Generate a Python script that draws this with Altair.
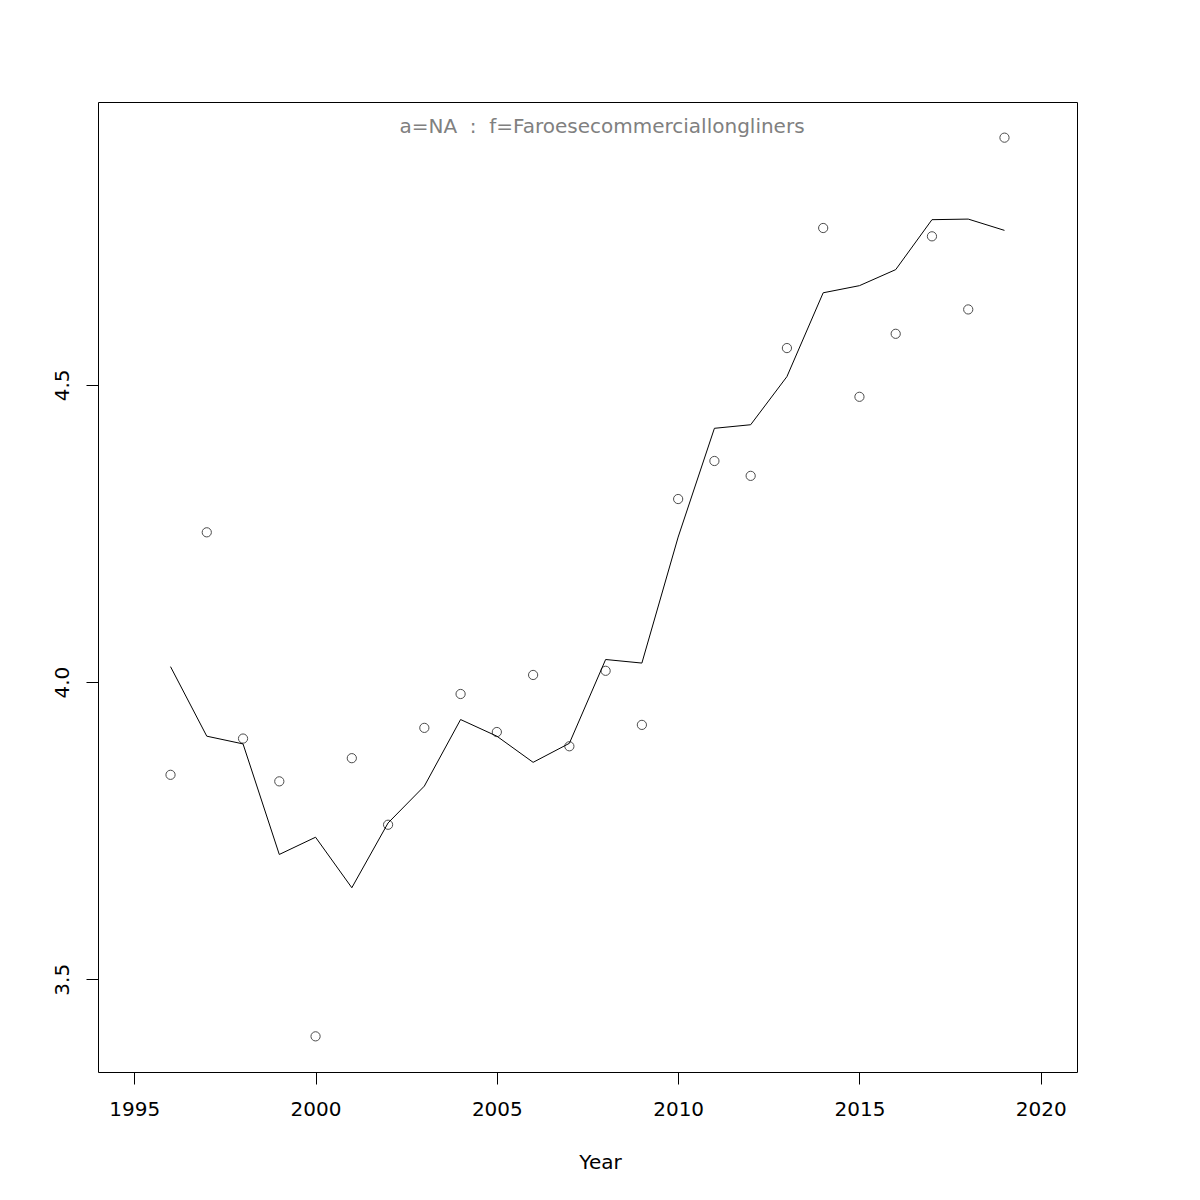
import altair as alt
import pandas as pd

years = list(range(1996, 2020))
observed = [3.844, 4.252, 3.905, 3.833, 3.404, 3.872, 3.760, 3.923, 3.980, 3.916,
            4.012, 3.892, 4.019, 3.928, 4.308, 4.372, 4.347, 4.562, 4.764, 4.480,
            4.586, 4.750, 4.627, 4.916]
fitted = [4.026, 3.909, 3.896, 3.710, 3.739, 3.654, 3.763, 3.825, 3.937, 3.909,
          3.865, 3.897, 4.038, 4.032, 4.244, 4.427, 4.433, 4.514, 4.655, 4.667,
          4.694, 4.778, 4.779, 4.760]
x_ticks = [1995, 2000, 2005, 2010, 2015, 2020]
y_ticks = [3.5, 4.0, 4.5]
title_text = "a=NA\u00a0\u00a0:\u00a0\u00a0f=Faroesecommerciallongliners"

df = pd.DataFrame({"Year": years, "obs": observed, "fit": fitted})

FONT = "DejaVu Sans"

xscale = alt.Scale(domain=[1994, 2021], nice=False, zero=False)
yscale = alt.Scale(domain=[3.344, 4.976], nice=False, zero=False)

xaxis = alt.Axis(values=x_ticks, format="d", tickSize=12, tickColor="black",
                 domain=False, grid=False, labelFontSize=20, labelFont=FONT,
                 labelColor="black", labelPadding=15, title="Year",
                 titleFontSize=20, titleFont=FONT, titleFontWeight="normal",
                 titleColor="black", titlePadding=33, titleX=502,
                 titleAlign="center")
yaxis = alt.Axis(values=y_ticks, format=".1f", tickSize=12, tickColor="black",
                 domain=False, grid=False, labelFontSize=20, labelFont=FONT,
                 labelColor="black", labelAngle=-90, labelAlign="center",
                 labelBaseline="bottom", labelPadding=14, title=None)

base = alt.Chart(df)

points = base.mark_point(shape="circle", filled=False, size=85, color="black",
                         strokeWidth=1).encode(
    x=alt.X("Year:Q", scale=xscale, axis=xaxis),
    y=alt.Y("obs:Q", scale=yscale, axis=yaxis),
)

line = base.mark_line(color="black", strokeWidth=1).encode(
    x=alt.X("Year:Q", scale=xscale),
    y=alt.Y("fit:Q", scale=yscale),
)

title = alt.Chart(pd.DataFrame({"t": [title_text]})).mark_text(
    align="center", baseline="alphabetic", fontSize=20, font=FONT, color="#808080"
).encode(text="t:N", x=alt.value(504), y=alt.value(31))

chart = alt.layer(line, points, title).properties(
    width=979, height=970,
    autosize=alt.AutoSizeParams(type="none"),
    padding={"left": 90, "top": 94, "right": 115, "bottom": 120},
).configure_view(stroke="black", strokeWidth=1)

chart.save("out.html", embed_options={"renderer": "svg", "actions": False})
